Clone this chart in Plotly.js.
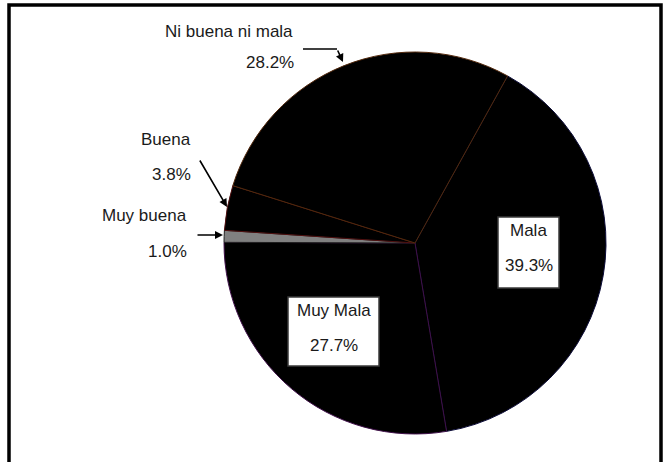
<!DOCTYPE html>
<html>
<head>
<meta charset="utf-8">
<script src="https://cdn.plot.ly/plotly-3.0.1.min.js"></script>
<style>html,body{margin:0;padding:0;background:#fff;}#chart{width:670px;height:462px;}</style>
</head>
<body>
<div id="chart"></div>
<script>
// Data (clockwise order starting at ~29° from 12 o'clock)
const categories = ['Mala', 'Muy Mala', 'Muy buena', 'Buena', 'Ni buena ni mala'];
const percents = [39.3, 27.7, 1.0, 3.8, 28.2];
const sliceColors = ['#000000', '#000000', '#808080', '#000000', '#000000'];
const borderColors = ['#0c0c38', '#40104a', '#1e1e1e', '#501010', '#52280c'];

const W = 670, H = 462;
const X = px => px / W;
const Y = py => 1 - py / H;
const fmt = v => v.toFixed(1) + '%';
const font = {family: 'Liberation Sans, Arial, sans-serif', size: 17, color: '#1a1a1a'};

const trace = {
  type: 'pie',
  labels: categories,
  values: percents,
  sort: false,
  direction: 'clockwise',
  rotation: 29,
  textinfo: 'none',
  hoverinfo: 'label+percent',
  marker: {colors: sliceColors, line: {color: borderColors, width: 1}},
  domain: {x: [X(224), X(606)], y: [Y(434), Y(52)]},
  showlegend: false
};

function txt(t, cx, cy) {
  return {text: t, x: X(cx), y: Y(cy), xref: 'paper', yref: 'paper',
          xanchor: 'center', yanchor: 'middle', showarrow: false, font: font};
}
function txtR(t, rx, cy) {
  return {text: t, x: X(rx), y: Y(cy), xref: 'paper', yref: 'paper',
          xanchor: 'right', yanchor: 'middle', showarrow: false, font: font};
}
function arrow(hx, hy, tx, ty) {
  return {text: '', x: X(hx), y: Y(hy), xref: 'paper', yref: 'paper',
          ax: tx - hx, ay: ty - hy, axref: 'pixel', ayref: 'pixel',
          showarrow: true, arrowhead: 2, arrowsize: 1, arrowwidth: 1.6, arrowcolor: '#000'};
}

const iMala = 0, iMuyMala = 1, iMuyBuena = 2, iBuena = 3, iNi = 4;

const annotations = [
  // inner boxed labels
  txt(categories[iMala], 528.5, 230), txt(fmt(percents[iMala]), 528.5, 265),
  txt(categories[iMuyMala], 333.5, 310), txt(fmt(percents[iMuyMala]), 333.5, 345),
  // outer labels
  txtR(categories[iNi], 295, 31), txtR(fmt(percents[iNi]), 296, 63),
  txtR(categories[iBuena], 193, 139), txtR(fmt(percents[iBuena]), 193, 174),
  txtR(categories[iMuyBuena], 189, 215), txtR(fmt(percents[iMuyBuena]), 189, 252),
  // arrows
  arrow(343, 62, 337, 49),
  arrow(227, 207, 199, 159),
  arrow(223, 235, 196, 235)
];

const shapes = [
  // outer frame
  {type: 'rect', xref: 'paper', yref: 'paper', x0: X(9), x1: X(661), y0: Y(475), y1: Y(5),
   line: {color: '#000', width: 3.5}, fillcolor: 'rgba(0,0,0,0)'},
  // label boxes
  {type: 'rect', xref: 'paper', yref: 'paper', x0: X(498), x1: X(559), y0: Y(288), y1: Y(217),
   line: {color: '#3a3a3a', width: 1.5}, fillcolor: '#ffffff', layer: 'above'},
  {type: 'rect', xref: 'paper', yref: 'paper', x0: X(288), x1: X(379), y0: Y(366), y1: Y(297),
   line: {color: '#3a3a3a', width: 1.5}, fillcolor: '#ffffff', layer: 'above'},
  // leader line segment for "Ni buena ni mala"
  {type: 'line', xref: 'paper', yref: 'paper', x0: X(303), x1: X(337), y0: Y(49), y1: Y(49),
   line: {color: '#000', width: 1.6}}
];

const layout = {
  width: W, height: H,
  margin: {l: 0, r: 0, t: 0, b: 0},
  paper_bgcolor: '#ffffff',
  plot_bgcolor: '#ffffff',
  annotations: annotations,
  shapes: shapes,
  font: font
};

Plotly.newPlot('chart', [trace], layout, {displayModeBar: false, staticPlot: true});
</script>
</body>
</html>
